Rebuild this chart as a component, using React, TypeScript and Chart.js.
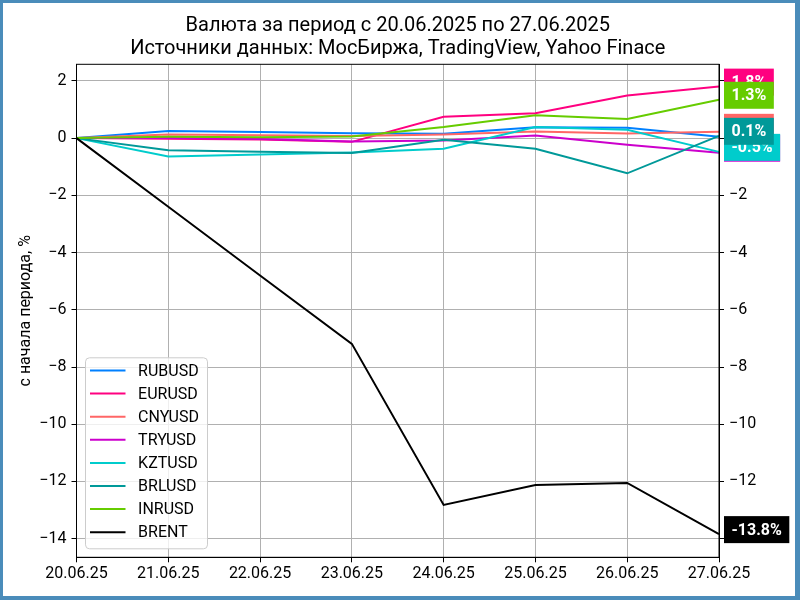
import React, { useEffect, useRef } from 'react';
import { Chart, registerables } from 'chart.js';

Chart.register(...registerables);

const dates = ['20.06.25', '21.06.25', '22.06.25', '23.06.25', '24.06.25', '25.06.25', '26.06.25', '27.06.25'];

const rubusd = [0, 0.25, 0.21, 0.17, 0.15, 0.38, 0.36, 0.05];
const eurusd = [0, -0.02, -0.05, -0.13, 0.75, 0.87, 1.49, 1.8];
const cnyusd = [0, 0.13, 0.1, 0.07, 0.13, 0.23, 0.16, 0.22];
const tryusd = [0, 0.0, -0.03, -0.12, -0.08, 0.09, -0.23, -0.51];
const kztusd = [0, -0.64, -0.57, -0.5, -0.37, 0.39, 0.29, -0.48];
const brlusd = [0, -0.42, -0.48, -0.52, -0.06, -0.37, -1.23, 0.08];
const inrusd = [0, 0.05, 0.03, 0.06, 0.39, 0.8, 0.67, 1.34];
const brent = [0, -2.4, -4.8, -7.19, -12.82, -12.12, -12.05, -13.84];

const seriesNames = ['RUBUSD', 'EURUSD', 'CNYUSD', 'TRYUSD', 'KZTUSD', 'BRLUSD', 'INRUSD', 'BRENT'];
const seriesData = [rubusd, eurusd, cnyusd, tryusd, kztusd, brlusd, inrusd, brent];
const seriesColors = ['#0080ff', '#ff0080', '#ff6666', '#cc00cc', '#00cccc', '#009999', '#66cc00', '#000000'];

const titleLines = ['Валюта за период с 20.06.2025 по 27.06.2025', 'Источники данных: МосБиржа, TradingView, Yahoo Finace'];
const yTitle = 'с начала периода, %';

const fmtTick = (v: number) => (v < 0 ? '\u2212' + Math.abs(v) : String(v));

// рамка вокруг области графика + легенда внутри
const frameLegend = {
  id: 'frameLegend',
  afterDatasetsDraw(chart: any) {
    const { ctx, chartArea: a } = chart;
    ctx.save();
    ctx.strokeStyle = '#000';
    ctx.lineWidth = 1;
    ctx.strokeRect(a.left, a.top, a.right - a.left, a.bottom - a.top);

    const bx = a.left + 9;
    const bw = 122;
    const bh = 191;
    const by = a.bottom - 8.5 - bh;
    ctx.beginPath();
    ctx.roundRect(bx, by, bw, bh, 4);
    ctx.fillStyle = 'rgba(255,255,255,0.8)';
    ctx.fill();
    ctx.strokeStyle = '#cccccc';
    ctx.stroke();

    ctx.font = '16px Roboto';
    ctx.textBaseline = 'middle';
    chart.data.datasets.forEach((ds: any, i: number) => {
      const cy = by + 12.7 + i * 23.1;
      ctx.beginPath();
      ctx.moveTo(bx + 4.5, cy);
      ctx.lineTo(bx + 40, cy);
      ctx.strokeStyle = ds.borderColor;
      ctx.lineWidth = 2;
      ctx.stroke();
      ctx.fillStyle = '#000';
      ctx.fillText(ds.label, bx + 52.6, cy + 1);
    });
    ctx.restore();
  },
};

// подписи последних значений справа
const endLabels = {
  id: 'endLabels',
  afterDraw(chart: any) {
    const { ctx, chartArea: a } = chart;
    const yScale = chart.scales.y;
    ctx.save();
    ctx.font = 'bold 16px Roboto';
    ctx.textBaseline = 'middle';
    chart.data.datasets.forEach((ds: any) => {
      const v = ds.data[ds.data.length - 1];
      const y = yScale.getPixelForValue(v) - 4.5;
      const text = v.toFixed(1) + '%';
      const w = ctx.measureText(text).width + 15;
      const x = a.right + 5;
      ctx.fillStyle = ds.borderColor;
      ctx.fillRect(x, y - 13.5, w, 27);
      ctx.fillStyle = '#fff';
      ctx.fillText(text, x + 7.5, y + 1);
    });
    ctx.restore();
  },
};

const App: React.FC = () => {
  const chartRef = useRef<HTMLCanvasElement>(null);

  useEffect(() => {
    if (!chartRef.current) return;
    Chart.defaults.font.family = 'Roboto';
    Chart.defaults.color = '#000';

    const n = seriesNames.length;
    const chart = new Chart(chartRef.current, {
      type: 'line',
      data: {
        labels: dates,
        datasets: seriesNames.map((name, i) => ({
          label: name,
          data: seriesData[i],
          borderColor: seriesColors[i],
          backgroundColor: seriesColors[i],
          borderWidth: 2,
          pointRadius: 0,
          tension: 0,
          order: n - 1 - i,
        })),
      },
      options: {
        responsive: false,
        animation: false,
        events: [],
        plugins: {
          legend: { display: false },
          tooltip: { enabled: false },
          title: {
            display: true,
            text: titleLines,
            fullSize: false,
            color: '#000',
            font: { size: 20, weight: 'normal', lineHeight: 1.15 },
            padding: { top: 14, bottom: 4.3 },
          },
        },
        scales: {
          x: {
            type: 'category',
            offset: false,
            grid: { color: '#b0b0b0', tickColor: '#000', tickLength: 5 },
            border: { color: '#000' },
            ticks: { font: { size: 16 }, color: '#000', padding: 2, maxRotation: 0, autoSkip: false },
            afterFit: (s: any) => { s.height = 42.7; },
          },
          y: {
            position: 'left',
            min: -14.65,
            max: 2.58,
            grid: { color: '#b0b0b0', tickColor: '#000', tickLength: 5 },
            border: { color: '#000' },
            ticks: { stepSize: 2, includeBounds: false, font: { size: 16 }, color: '#000', padding: 5, callback: (v: any) => fmtTick(Number(v)) },
            title: { display: true, text: yTitle, font: { size: 16 }, color: '#000', padding: { top: 16, bottom: 0 } },
            afterFit: (s: any) => { s.width = 76.5; },
          },
          y2: {
            position: 'right',
            min: -14.65,
            max: 2.58,
            grid: { drawOnChartArea: false, tickColor: '#000', tickLength: 5 },
            border: { color: '#000' },
            ticks: { stepSize: 2, includeBounds: false, font: { size: 16 }, color: '#000', padding: 5, callback: (v: any) => fmtTick(Number(v)) },
            afterFit: (s: any) => { s.width = 81; },
          },
        },
      },
      plugins: [frameLegend, endLabels],
    });

    return () => {
      chart.destroy();
    };
  }, []);

  return (
    <div style={{ position: 'fixed', left: 0, top: 0, width: 800, height: 600, background: '#fff' }}>
      <canvas ref={chartRef} width={800} height={600} style={{ display: 'block' }} />
      <div
        style={{
          position: 'absolute',
          inset: 0,
          boxSizing: 'border-box',
          borderStyle: 'solid',
          borderColor: '#4a8cba',
          borderWidth: '3px 5px 4px 3px',
          pointerEvents: 'none',
        }}
      />
    </div>
  );
};

export default App;
